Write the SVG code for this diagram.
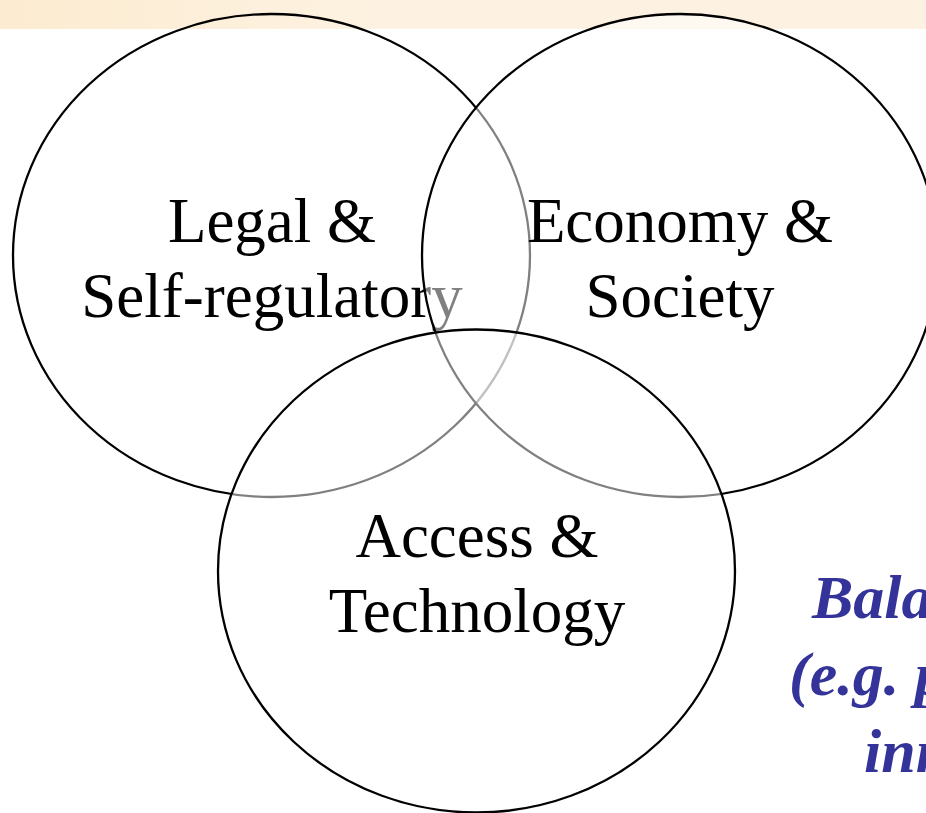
<svg xmlns="http://www.w3.org/2000/svg" width="926" height="813" viewBox="0 0 926 813">
  <defs>
    <linearGradient id="band" x1="0" y1="0" x2="1" y2="0">
      <stop offset="0" stop-color="#FCEBD0"/>
      <stop offset="0.4" stop-color="#FDF2E1"/>
      <stop offset="1" stop-color="#FDF2E1"/>
    </linearGradient>
  </defs>
  <style>
    .ring { stroke: #000; stroke-width: 2.3; }
    .lbl { font-family: "Liberation Serif", "Times New Roman", serif; font-size: 63px; fill: #000; text-anchor: middle; }
    .note { font-family: "Liberation Serif", "Times New Roman", serif; font-size: 62px; font-weight: bold; font-style: italic; fill: #333399; }
  </style>
  <rect x="0" y="0" width="926" height="813" fill="#fff"/>
  <rect x="0" y="0" width="926" height="29" fill="url(#band)"/>
  <g id="legal">
    <ellipse class="ring" cx="271.5" cy="255.5" rx="258.5" ry="241.5" fill="none"/>
    <text class="lbl" x="272" y="242">Legal &amp;</text>
    <text class="lbl" x="272" y="317">Self-regulatory</text>
  </g>
  <g id="economy">
    <ellipse class="ring" cx="680" cy="255.5" rx="258" ry="241.5" fill="#fff" fill-opacity="0.5"/>
    <text class="lbl" x="680" y="242">Economy &amp;</text>
    <text class="lbl" x="680" y="317">Society</text>
  </g>
  <g id="access">
    <ellipse class="ring" cx="476.5" cy="571" rx="258.5" ry="241.5" fill="#fff" fill-opacity="0.5"/>
    <text class="lbl" x="477" y="557">Access &amp;</text>
    <text class="lbl" x="477" y="632">Technology</text>
  </g>
  <g id="connectors"></g>
  <g id="note">
    <text class="note" x="812" y="618">Bala</text>
    <text class="note" x="789" y="695">(e.g. p</text>
    <text class="note" x="864" y="772">inn</text>
  </g>
</svg>
